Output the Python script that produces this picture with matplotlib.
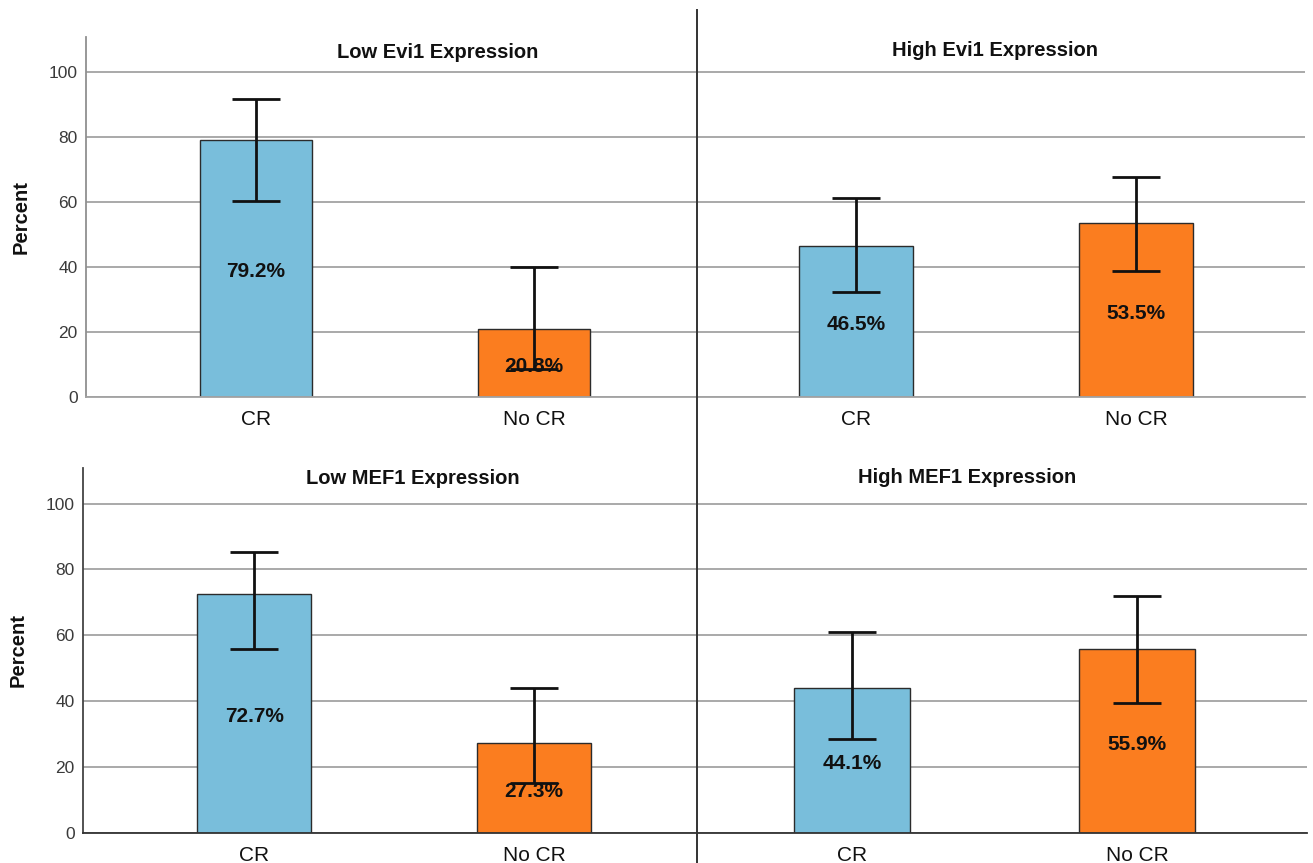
import matplotlib
matplotlib.use("Agg")
from matplotlib import pyplot as plt
from matplotlib.lines import Line2D

plt.rcParams["font.family"] = ["Liberation Sans", "DejaVu Sans"]

categories = ["CR", "No CR"]
titles = ["Low Evi1 Expression", "High Evi1 Expression",
          "Low MEF1 Expression", "High MEF1 Expression"]

# percent of patients per group, with 95% CI bounds
percent = [[79.2, 20.8], [46.5, 53.5], [72.7, 27.3], [44.1, 55.9]]
ci_low = [[60.3, 8.5], [32.3, 38.8], [55.8, 15.2], [28.6, 39.5]]
ci_high = [[91.7, 40.0], [61.2, 67.7], [85.2, 44.1], [61.1, 71.9]]

yticks = [0, 20, 40, 60, 80, 100]

W, H = 1313, 863
blue = "#79bedb"
orange = "#fb7d1f"
grid_col = "#a3a3a3"

fig = plt.figure(figsize=(W / 100, H / 100), dpi=100)


def px(x0, y0, x1, y1):
    # pixel box -> figure fraction rect
    return [x0 / W, 1 - y1 / H, (x1 - x0) / W, (y1 - y0) / H]


boxes = [px(86, 37, 697, 397), px(697, 37, 1305, 397),
         px(83, 468, 697, 833), px(697, 468, 1307, 833)]
xlims = [(-0.612, 1.586), (-0.568, 1.604), (-0.611, 1.582), (-0.544, 1.596)]
title_pos = [(438, 52), (995, 51), (413, 479), (967, 477)]

for i in range(4):
    ax = fig.add_axes(boxes[i])
    vals = percent[i]
    err = [[v - lo for v, lo in zip(vals, ci_low[i])],
           [hi - v for v, hi in zip(vals, ci_high[i])]]
    xs = range(len(categories))
    ax.set_axisbelow(True)
    ax.yaxis.grid(True, color=grid_col, lw=1.3)
    ax.bar(xs, vals, width=0.405, color=[blue, orange],
           edgecolor="#2b2b2b", lw=1.0, zorder=2)
    ax.errorbar(xs, vals, yerr=err, fmt="none", ecolor="#111111",
                elinewidth=2.0, capsize=17.5, capthick=2.0, zorder=3)
    for x, v in zip(xs, vals):
        ax.text(x, v / 2 - 1, f"{v}%", ha="center", va="center",
                fontsize=15, fontweight="bold", color="#111111", zorder=4)

    ax.set_xlim(*xlims[i])
    ax.set_ylim(0, 110.8)
    ax.set_xticks(list(xs))
    ax.set_xticklabels(categories, fontsize=15, color="#111111")
    ax.tick_params(axis="x", length=0, pad=9)

    dark = i >= 2
    for s in ["top", "right"]:
        ax.spines[s].set_visible(False)
    ax.spines["bottom"].set_color("#333333" if dark else grid_col)
    ax.spines["bottom"].set_linewidth(1.3)
    if i % 2 == 0:
        ax.spines["left"].set_color("#444444" if dark else "#909090")
        ax.spines["left"].set_linewidth(1.3)
        ax.set_yticks(yticks)
        ax.set_yticklabels([str(t) for t in yticks], fontsize=12.5,
                           color="#3a3a3a")
        ax.tick_params(axis="y", length=0, pad=6)
        ax.set_ylabel("Percent", fontsize=14.5, fontweight="bold",
                      color="#111111", labelpad=13)
    else:
        ax.spines["left"].set_visible(False)
        ax.set_yticks(yticks)
        ax.set_yticklabels([])
        ax.tick_params(axis="y", length=0)

    tx, ty = title_pos[i]
    fig.text(tx / W, 1 - ty / H, titles[i], ha="center", va="center",
             fontsize=14.5, fontweight="bold", color="#111111")

# panel divider between the left and right columns
fig.add_artist(Line2D([697 / W, 697 / W], [1 - 10 / H, 0.0],
                      color="#333333", lw=1.4))

fig.savefig("out.png", dpi=100, facecolor="white")
